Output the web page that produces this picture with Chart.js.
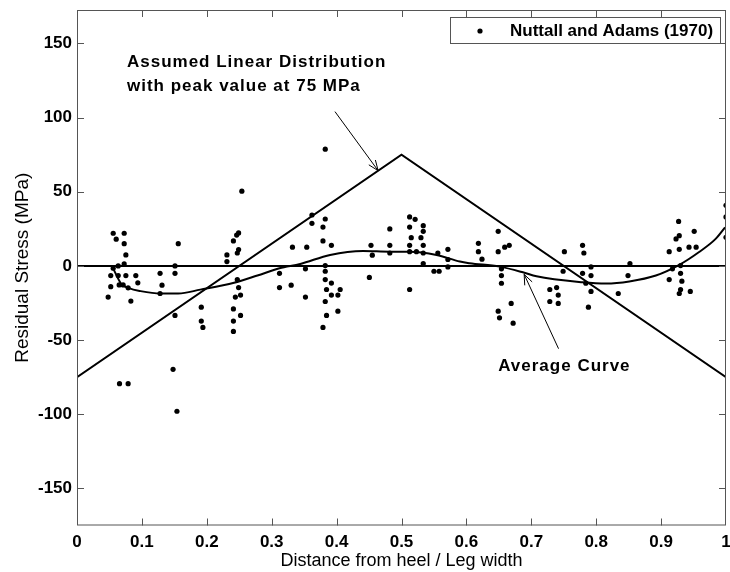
<!DOCTYPE html>
<html>
<head>
<meta charset="utf-8">
<script src="https://cdn.jsdelivr.net/npm/chart.js@4.4.0/dist/chart.umd.min.js"></script>
<style>
  html, body { margin: 0; padding: 0; background: #fff; }
</style>
</head>
<body>
<canvas id="stressChart" width="730" height="572"></canvas>
<script>
// measured residual stress, Nuttall and Adams (1970)
const stressX = [
  0.0558, 0.0727, 0.0604, 0.0727, 0.156, 0.0753, 0.0635, 0.0727, 0.0558, 0.151,
  0.052, 0.0635, 0.0753, 0.0906, 0.128, 0.151, 0.052, 0.065, 0.0711, 0.0788,
  0.0937, 0.131, 0.128, 0.048, 0.083, 0.151, 0.148, 0.0655, 0.0788, 0.154,
  0.1915, 0.1915, 0.194, 0.231, 0.231, 0.241, 0.246, 0.249, 0.247, 0.249,
  0.254, 0.247, 0.249, 0.244, 0.252, 0.241, 0.252, 0.241, 0.241,
  0.312, 0.312, 0.330, 0.332, 0.354, 0.352, 0.352, 0.362, 0.362, 0.379,
  0.379, 0.3825, 0.3825, 0.3825, 0.3825, 0.3825, 0.3845, 0.3825, 0.3845, 0.379,
  0.392, 0.392, 0.392, 0.4055, 0.402, 0.402,
  0.453, 0.455, 0.4505, 0.482, 0.482, 0.482, 0.5125, 0.521, 0.5125, 0.5335,
  0.5335, 0.515, 0.530, 0.5125, 0.5335, 0.5125, 0.523, 0.5335, 0.5335, 0.556,
  0.5715, 0.5715, 0.5715, 0.550, 0.558, 0.5125,
  0.6185, 0.6185, 0.624, 0.649, 0.649, 0.659, 0.666, 0.654, 0.654, 0.654,
  0.669, 0.649, 0.651, 0.672,
  0.7285, 0.739, 0.7415, 0.7285, 0.7415, 0.749, 0.751, 0.779, 0.781, 0.779,
  0.792, 0.792, 0.784, 0.792, 0.788, 0.834, 0.852, 0.849,
  0.9125, 0.927, 0.928, 0.923, 0.928, 0.943, 0.951, 0.954, 0.9175, 0.930,
  0.930, 0.9125, 0.932, 0.930, 0.928, 0.945, 1.0, 1.0, 1.0
];
const stressY = [
  22, 22, 18, 15, 15, 7.4, 0, 1.3, -1.6, 0,
  -6.5, -6.5, -6.5, -6.5, -5, -5, -14, -12.8, -12.8, -14.8,
  -11.4, -13, -18.6, -21, -23.7, -33.4, -69.7, -79.4, -79.4, -98,
  -27.8, -37.2, -41.5, 7.4, 2.9, 16.8, 20.8, 22.2, 8.7, 11,
  50.4, -9.2, -14.6, -21, -19.7, -29, -33.4, -37.2, -44.2,
  -5, -14.6, -13, 12.6, 12.6, -2, -21, 34.3, 28.7, 26.2,
  16.8, 78.7, 31.6, 0.2, -3.6, -9.2, -15.9, -24, -33.4, -41.5,
  13.9, -11.6, -19.7, -15.9, -19.7, -30.5,
  13.9, 7.2, -7.8, 24.9, 13.9, 8.7, 33, 31.4, 26.2, 27.1,
  23.3, 19, 19, 13.9, 13.9, 9.6, 9.6, 8.7, 1.6, 8.7,
  11.2, 4.3, -0.7, -3.6, -3.6, -15.9,
  15.2, 9.6, 4.5, 23.3, 9.6, 12.6, 13.9, -2, -6.5, -11.7,
  -25.3, -30.5, -35, -38.6,
  -15.9, -14.6, -19.7, -24, -25.3, -3.6, 9.6, 13.9, 8.7, -5,
  -0.7, -6.5, -11.7, -17.2, -27.8, -18.6, 1.6, -6.5,
  9.6, 30, 20.4, 18.2, 11.2, 12.6, 23.3, 12.6, -2, 0.2,
  -5, -9.2, -10.3, -15.9, -18.6, -17.2, 40.8, 33, 19.3
];

// average curve through the data
const avgX = [0.056, 0.068, 0.08, 0.098, 0.129, 0.156, 0.19, 0.242, 0.278, 0.312,
  0.344, 0.39, 0.441, 0.482, 0.513, 0.554, 0.59, 0.605, 0.651, 0.687,
  0.708, 0.779, 0.815, 0.851, 0.892, 0.928, 0.958, 0.984, 0.9985];
const avgY = [-2, -12, -15, -17, -18.6, -18.6, -16, -11.4, -6.5, -1.6,
  1.3, 7.4, 10, 9.6, 9.6, 7.4, 2.9, 1.8, -0.5, -4.3,
  -7, -11, -11.9, -10.5, -6.5, 0.7, 9.2, 18.2, 26];

// assumed linear distribution, peak 75 MPa
const linX = [0, 0.5, 1];
const linY = [-75, 75, -75];

const zeroX = [0, 1];
const zeroY = [0, 0];

const xTicks = [0, 0.1, 0.2, 0.3, 0.4, 0.5, 0.6, 0.7, 0.8, 0.9, 1];
const yTicks = [-150, -100, -50, 0, 50, 100, 150];

// annotations (data coords)
const linNote = ['Assumed Linear Distribution', 'with peak value at 75 MPa'];
const linNoteAt = [0.077, 137];
const linArrow = [[0.3975, 104], [0.464, 64.2]];
const avgNote = 'Average Curve';
const avgNoteAt = [0.649, -68];
const avgArrow = [[0.742, -55.8], [0.689, -5.7]];
const legendLabel = 'Nuttall and Adams (1970)';

const FONT = '"Liberation Sans", Arial, Helvetica, sans-serif';

const zip = (xs, ys) => xs.map((v, i) => ({ x: v, y: ys[i] }));

function arrow(ctx, x0, y0, x1, y1) {
    const ang = Math.atan2(y1 - y0, x1 - x0);
    const len = 11, spread = 0.38;
    ctx.beginPath();
    ctx.moveTo(x0, y0);
    ctx.lineTo(x1, y1);
    ctx.moveTo(x1 - len * Math.cos(ang - spread), y1 - len * Math.sin(ang - spread));
    ctx.lineTo(x1, y1);
    ctx.lineTo(x1 - len * Math.cos(ang + spread), y1 - len * Math.sin(ang + spread));
    ctx.stroke();
}

const extras = {
    id: 'extras',
    afterDatasetsDraw(chart) {
        const { ctx, chartArea: a, scales: { x, y } } = chart;
        ctx.save();

        // box + inward ticks
        ctx.strokeStyle = '#555';
        ctx.lineWidth = 1;
        ctx.strokeRect(a.left + 0.5, a.top + 0.5, a.right - a.left - 1, a.bottom - a.top - 1);
        ctx.beginPath();
        xTicks.forEach(v => {
            const px = Math.round(x.getPixelForValue(v)) + 0.5;
            if (px < a.left + 2 || px > a.right - 2) return;
            ctx.moveTo(px, a.bottom); ctx.lineTo(px, a.bottom - 7);
            ctx.moveTo(px, a.top); ctx.lineTo(px, a.top + 7);
        });
        yTicks.forEach(v => {
            const py = Math.round(y.getPixelForValue(v)) + 0.5;
            ctx.moveTo(a.left, py); ctx.lineTo(a.left + 7, py);
            ctx.moveTo(a.right, py); ctx.lineTo(a.right - 7, py);
        });
        ctx.stroke();

        // arrows
        ctx.strokeStyle = '#000';
        ctx.lineWidth = 1;
        arrow(ctx, x.getPixelForValue(linArrow[0][0]), y.getPixelForValue(linArrow[0][1]),
                   x.getPixelForValue(linArrow[1][0]), y.getPixelForValue(linArrow[1][1]));
        arrow(ctx, x.getPixelForValue(avgArrow[0][0]), y.getPixelForValue(avgArrow[0][1]),
                   x.getPixelForValue(avgArrow[1][0]), y.getPixelForValue(avgArrow[1][1]));

        // notes
        ctx.fillStyle = '#000';
        ctx.font = 'bold 17px ' + FONT;
        ctx.letterSpacing = '1px';
        ctx.textAlign = 'left';
        ctx.textBaseline = 'middle';
        const lx = x.getPixelForValue(linNoteAt[0]);
        const ly = y.getPixelForValue(linNoteAt[1]);
        ctx.fillText(linNote[0], lx, ly);
        ctx.fillText(linNote[1], lx, ly + 24);
        ctx.fillText(avgNote, x.getPixelForValue(avgNoteAt[0]), y.getPixelForValue(avgNoteAt[1]));

        // legend
        ctx.letterSpacing = '0px';
        const bw = 270, bh = 26;
        const bx = a.right - 6 - bw, by = a.top + 7;
        ctx.fillStyle = '#fff';
        ctx.fillRect(bx, by, bw, bh);
        ctx.strokeStyle = '#555';
        ctx.strokeRect(bx + 0.5, by + 0.5, bw, bh);
        ctx.fillStyle = '#000';
        ctx.beginPath();
        ctx.arc(bx + 30, by + bh / 2 + 1, 2.6, 0, Math.PI * 2);
        ctx.fill();
        ctx.fillText(legendLabel, bx + 60, by + bh / 2 + 1);
        ctx.restore();
    }
};

const tickFont = { family: FONT, size: 17, weight: 'bold' };
const titleFont = { family: FONT, size: 18, weight: 'normal' };

new Chart(document.getElementById('stressChart'), {
    type: 'scatter',
    data: {
        datasets: [
            { label: 'zero', data: zip(zeroX, zeroY), showLine: true, pointRadius: 0,
              borderColor: '#000', borderWidth: 2 },
            { label: 'linear', data: zip(linX, linY), showLine: true, pointRadius: 0,
              borderColor: '#000', borderWidth: 2 },
            { label: 'average', data: zip(avgX, avgY), showLine: true, pointRadius: 0,
              borderColor: '#000', borderWidth: 2, cubicInterpolationMode: 'monotone' },
            { label: legendLabel, data: zip(stressX, stressY), pointRadius: 2.6,
              pointBackgroundColor: '#000', pointBorderWidth: 0, clip: 0 }
        ]
    },
    options: {
        responsive: false,
        animation: false,
        devicePixelRatio: 1,
        layout: { padding: { top: 10, right: 1.5, left: 0, bottom: 0 } },
        plugins: { legend: { display: false }, tooltip: { enabled: false } },
        scales: {
            x: {
                type: 'linear', min: 0, max: 1,
                afterFit: s => { s.height = 46.5; s.paddingLeft = 0; s.paddingRight = 0; },
                grid: { display: false, drawTicks: false },
                border: { display: false },
                afterBuildTicks: s => { s.ticks = xTicks.map(v => ({ value: v })); },
                ticks: { padding: 7, color: '#000', font: tickFont, maxRotation: 0, autoSkip: false,
                         callback: v => String(Number(v.toFixed(1))) },
                title: { display: true, text: 'Distance from heel / Leg width', color: '#000',
                         font: titleFont, padding: { top: 0, bottom: 0 } }
            },
            y: {
                min: -175, max: 172.5,
                afterFit: s => { s.width = 77; s.paddingTop = 0; s.paddingBottom = 0; },
                grid: { display: false, drawTicks: false },
                border: { display: false },
                afterBuildTicks: s => { s.ticks = yTicks.map(v => ({ value: v })); },
                ticks: { padding: 5, color: '#000', font: tickFont },
                title: { display: true, text: 'Residual Stress (MPa)', color: '#000',
                         font: { family: FONT, size: 19, weight: 'normal' }, padding: { top: 11, bottom: 0 } }
            }
        }
    },
    plugins: [extras]
});
</script>
</body>
</html>
